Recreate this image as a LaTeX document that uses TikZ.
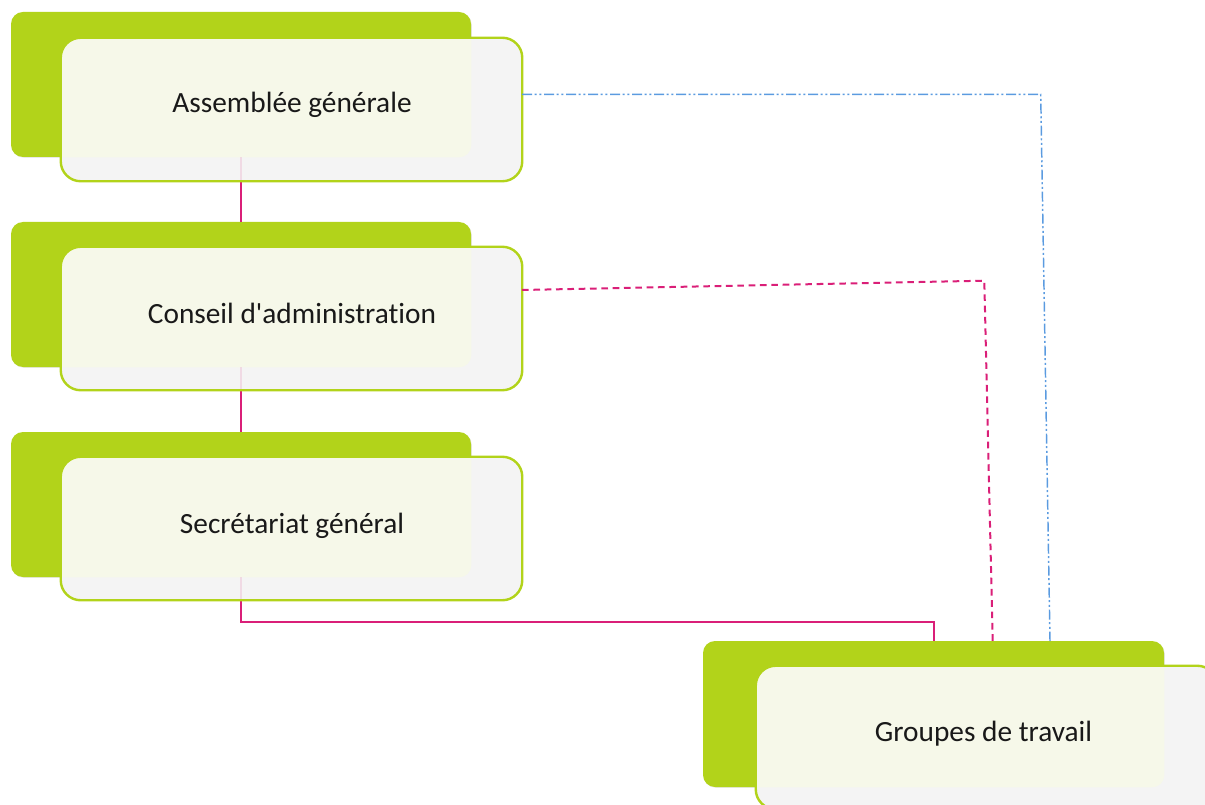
\documentclass[tikz,border=0pt]{standalone}
\usepackage{fontspec}
\setmainfont{Carlito}[Ligatures={NoCommon}]
\newfontfamily\calfont{Carlito}[Ligatures={NoCommon}]
\usetikzlibrary{shadows}
\definecolor{lime}{HTML}{B2D31A}
\definecolor{frontgray}{HTML}{F4F4F4}
\definecolor{pale}{HTML}{F6F8E9}
\definecolor{rose}{HTML}{DA1F78}
\definecolor{skyblue}{HTML}{5B9BE0}
\tikzset{
  backbox/.style={rectangle, fill=lime, draw=none, rounded corners=9pt, inner sep=0pt,
    drop shadow={opacity=0.18, shadow xshift=0.6pt, shadow yshift=-0.6pt}},
  frontbox/.style={rectangle, fill=frontgray, draw=none, rounded corners=15pt, inner sep=0pt,
    drop shadow={opacity=0.15, shadow xshift=0.6pt, shadow yshift=-0.6pt},
    minimum width=345.75pt, minimum height=107.25pt},
  frontborder/.style={draw=lime, line width=1.8pt, rounded corners=15pt},
  label/.style={anchor=base, font=\calfont\fontsize{22}{26}\selectfont, text=black!90, inner sep=0pt},
  solidlink/.style={draw=rose, line width=1.8pt},
  dashlink/.style={draw=rose, line width=1.5pt, dash pattern=on 5pt off 3.5pt},
  dotlink/.style={draw=skyblue, line width=1.1pt, dash pattern=on 7.5pt off 2pt on 1.5pt off 2pt on 1.5pt off 2pt},
  faint/.style={draw=rose, opacity=0.12, line width=1.7pt}
}
\begin{document}
\begin{tikzpicture}[x=0.75pt, y=-0.75pt]
\useasboundingbox (0,0) rectangle (1205,805);
\clip (0,0) rectangle (1205,805);
% back green boxes
\node[backbox, minimum width=345pt, minimum height=108.75pt] (g1) at (241,84.5) {};
\node[backbox, minimum width=345pt, minimum height=108.75pt] (g2) at (241,294.5) {};
\node[backbox, minimum width=345pt, minimum height=108.75pt] (g3) at (241,504.5) {};
\node[backbox, minimum width=345.75pt, minimum height=109.5pt] (g4) at (933.5,714) {};
% connector junctions
\coordinate (j1) at (934,621.7);
\coordinate (b0) at (522,94.3);
\coordinate (b1) at (1040.7,94.3);
\coordinate (b2) at (1050,641);
\coordinate (d0) at (522,290);
\coordinate (d1) at (984.3,280.7);
\coordinate (d2) at (992.7,641);
% solid connectors (behind front boxes)
\draw[solidlink] (g1.south) -- (g2.north);
\draw[solidlink] (g2.south) -- (g3.north);
\draw[solidlink] (g3.south) |- (j1) -- (j1 |- g4.north);
% front boxes
\node[frontbox] (f1) at (291.5,109.5) {};
\node[frontbox] (f2) at (291.5,318.5) {};
\node[frontbox] (f3) at (291.5,528.5) {};
\node[frontbox] (f4) at (986.5,737.5) {};
% pale overlap regions
\foreach \g/\f in {g1/f1,g2/f2,g3/f3,g4/f4}{
  \begin{scope}
    \clip[rounded corners=9pt] (\g.south west) rectangle (\g.north east);
    \fill[pale, rounded corners=15pt] (\f.south west) rectangle (\f.north east);
  \end{scope}
}
% faint lines seen through the front boxes
\draw[faint] (g1.south) -- (g1.south |- f1.south);
\draw[faint] (g2.south) -- (g2.south |- f2.south);
\draw[faint] (g3.south) -- (g3.south |- f3.south);
% front borders
\foreach \f in {f1,f2,f3,f4}{
  \draw[frontborder] (\f.south west) rectangle (\f.north east);
}
% labels
\node[label] (t1) at (292,113) {Assemblée générale};
\node[label] (t2) at (292,323) {Conseil d'administration};
\node[label] (t3) at (292,533) {Secrétariat général};
\node[label] (t4) at (983.5,741.7) {Groupes de travail};
% dashed connectors
\draw[dotlink] (b0) -- (b1) -- (b2);
\draw[dashlink] (d0) -- (d1) -- (d2);
\end{tikzpicture}
\end{document}
